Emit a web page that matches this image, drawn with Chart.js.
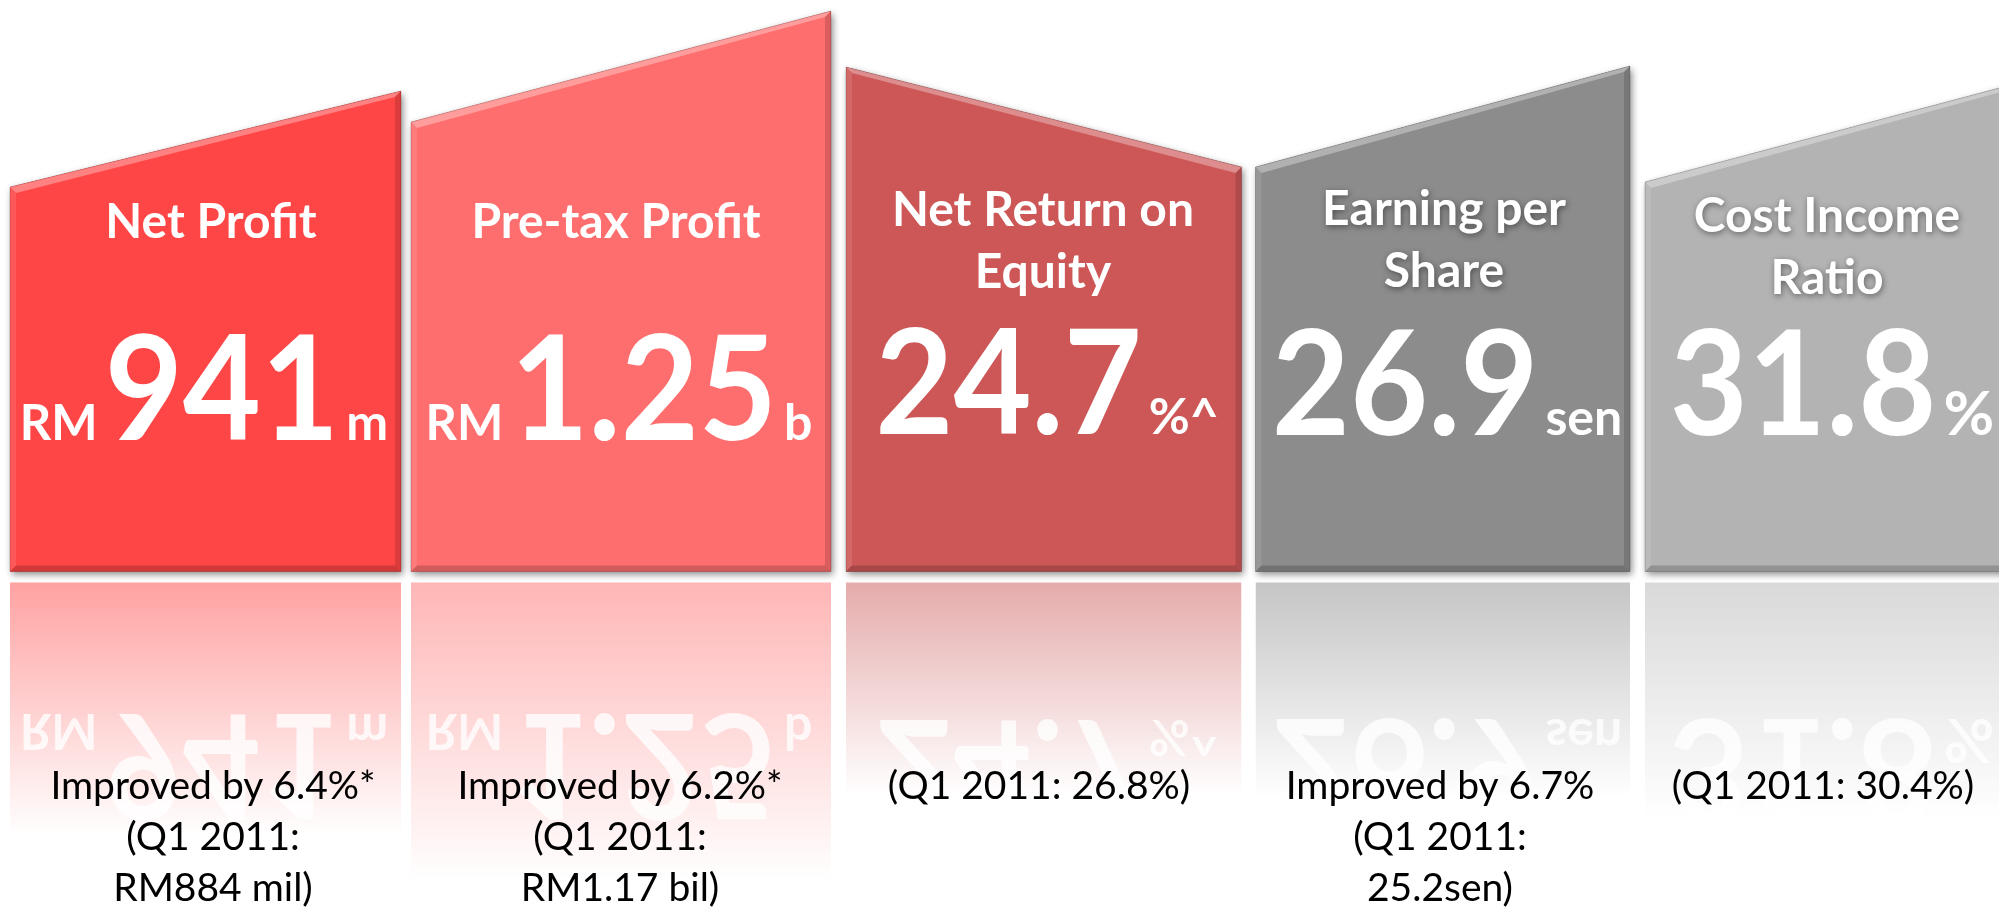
<!DOCTYPE html>
<html>
<head>
<meta charset="utf-8">
<script src="https://cdn.jsdelivr.net/npm/chart.js@4.4.1/dist/chart.umd.min.js"></script>
<style>
  html, body { margin: 0; padding: 0; background: #ffffff; overflow: hidden; }
  #wrap { width: 1999px; height: 908px; position: relative; }
</style>
</head>
<body>
<div id="wrap"><canvas id="c" width="1999" height="908"></canvas></div>
<script>
// ---------------- DATA ----------------
const titles = [
  ["Net Profit"],
  ["Pre-tax Profit"],
  ["Net Return on", "Equity"],
  ["Earning per", "Share"],
  ["Cost Income", "Ratio"]
];
const valuePrefixes = ["RM", "RM", "", "", ""];
const values = [941, 1.25, 24.7, 26.9, 31.8];
const valueUnits = ["m", "b", "%^", "sen", "%"];
const captions = [
  ["Improved by 6.4%*", "(Q1 2011:", "RM884 mil)"],
  ["Improved by 6.2%*", "(Q1 2011:", "RM1.17 bil)"],
  ["(Q1 2011: 26.8%)"],
  ["Improved by 6.7%", "(Q1 2011:", "25.2sen)"],
  ["(Q1 2011: 30.4%)"]
];

// ---------------- LAYOUT / STYLE ----------------
const tileLeft   = [10, 411, 846, 1255.5, 1645];
const tileRight  = [401, 831, 1241.5, 1630, 2005];
const edgeLeft   = [384.5, 449.5, 504.5, 404.5, 389.5];
const edgeRight  = [480.5, 560.5, 404.5, 505.5, 485];
const tileColors = ["#FF4646", "#FF6E6E", "#CD5757", "#8C8C8C", "#B3B3B3"];
const textCenter = [211, 616, 1043, 1444, 1827];
const valueCenter = [204, 619, 1047, 1447, 1832];
const titleBase  = [238, 238, 226, 225, 232];
const valueBase  = [440, 440, 434, 435, 435];
const unitPx     = [50, 50, 50, 50, 62];
const titleShadow = [false, false, false, true, true];
const captionCenter = [213, 620, 1039, 1440, 1823];
const reflectFade = [835, 880, 795, 797, 818];

const FONT = "Lato, 'Open Sans', sans-serif";
const TITLE_PX = 48, TITLE_LH = 62;
const NUM_PX = 145, NUM_SQ = 0.93;
const PREFIX_PX = 49;
const CAP_PX = 39, CAP_LH = 51, CAP_BASE = 799;
const MIRROR_AXIS = 577, REFLECT_TOP = 582;

function tilePath(ctx, xs, ys, i) {
  const xl = xs.getPixelForValue(tileLeft[i]), xr = xs.getPixelForValue(tileRight[i]);
  const yb = ys.getPixelForValue(0);
  ctx.beginPath();
  ctx.moveTo(xl, yb);
  ctx.lineTo(xl, ys.getPixelForValue(edgeLeft[i]));
  ctx.lineTo(xr, ys.getPixelForValue(edgeRight[i]));
  ctx.lineTo(xr, yb);
  ctx.closePath();
}

function drawTileText(ctx, i, withShadow) {
  ctx.save();
  ctx.fillStyle = "#ffffff";
  ctx.textBaseline = "alphabetic";
  // title
  ctx.textAlign = "center";
  ctx.font = `bold ${TITLE_PX}px ${FONT}`;
  if (withShadow && titleShadow[i]) {
    ctx.shadowColor = "rgba(0,0,0,0.45)";
    ctx.shadowBlur = 6; ctx.shadowOffsetX = 1; ctx.shadowOffsetY = 2;
  }
  titles[i].forEach((line, k) => ctx.fillText(line, textCenter[i], titleBase[i] + k * TITLE_LH));
  ctx.shadowColor = "transparent";
  // value group
  ctx.textAlign = "left";
  const pf = valuePrefixes[i], num = String(values[i]), sf = valueUnits[i];
  ctx.font = `bold ${PREFIX_PX}px ${FONT}`;
  const wp = pf ? ctx.measureText(pf).width : 0;
  ctx.font = `bold ${NUM_PX}px ${FONT}`;
  const wn = ctx.measureText(num).width * NUM_SQ;
  ctx.font = `bold ${unitPx[i]}px ${FONT}`;
  const ws = ctx.measureText(sf).width;
  const gap = 7;
  const total = wp + (pf ? gap : 0) + wn + gap + ws;
  let x = valueCenter[i] - total / 2;
  const yb = valueBase[i];
  if (pf) {
    ctx.font = `bold ${PREFIX_PX}px ${FONT}`;
    ctx.fillText(pf, x, yb);
    x += wp + gap;
  }
  ctx.save();
  ctx.translate(x, yb);
  ctx.scale(NUM_SQ, 1);
  ctx.font = `bold ${NUM_PX}px ${FONT}`;
  ctx.fillText(num, 0, 0);
  ctx.restore();
  x += wn + gap;
  ctx.font = `bold ${unitPx[i]}px ${FONT}`;
  ctx.fillText(sf, x, yb);
  ctx.restore();
}

const tilePlugin = {
  id: "tiles",
  beforeDatasetsDraw(chart) {
    const ctx = chart.ctx, xs = chart.scales.x, ys = chart.scales.y;
    // drop shadows
    for (let i = 0; i < tileLeft.length; i++) {
      ctx.save();
      ctx.shadowColor = "rgba(0,0,0,0.45)";
      ctx.shadowBlur = 7; ctx.shadowOffsetX = 2; ctx.shadowOffsetY = 3;
      tilePath(ctx, xs, ys, i);
      ctx.fillStyle = tileColors[i];
      ctx.fill();
      ctx.restore();
    }
    // reflections
    for (let i = 0; i < tileLeft.length; i++) {
      const xl = xs.getPixelForValue(tileLeft[i]), xr = xs.getPixelForValue(tileRight[i]);
      ctx.save();
      ctx.beginPath();
      ctx.rect(xl, REFLECT_TOP, xr - xl, chart.height - REFLECT_TOP);
      ctx.clip();
      ctx.globalAlpha = 0.5;
      ctx.translate(0, 2 * MIRROR_AXIS);
      ctx.scale(1, -1);
      tilePath(ctx, xs, ys, i);
      ctx.fillStyle = tileColors[i];
      ctx.fill();
      ctx.globalAlpha = 0.8;
      drawTileText(ctx, i, false);
      ctx.restore();
      // fade to white
      ctx.save();
      const g = ctx.createLinearGradient(0, REFLECT_TOP, 0, reflectFade[i]);
      g.addColorStop(0, "rgba(255,255,255,0)");
      g.addColorStop(1, "rgba(255,255,255,1)");
      ctx.fillStyle = g;
      ctx.fillRect(xl - 1, REFLECT_TOP, xr - xl + 2, reflectFade[i] - REFLECT_TOP);
      ctx.fillStyle = "#ffffff";
      ctx.fillRect(xl - 1, reflectFade[i], xr - xl + 2, chart.height - reflectFade[i]);
      ctx.restore();
    }
  },
  afterDatasetsDraw(chart) {
    const ctx = chart.ctx, xs = chart.scales.x, ys = chart.scales.y;
    const b = 6;
    for (let i = 0; i < tileLeft.length; i++) {
      const xl = xs.getPixelForValue(tileLeft[i]), xr = xs.getPixelForValue(tileRight[i]);
      const yl = ys.getPixelForValue(edgeLeft[i]), yr = ys.getPixelForValue(edgeRight[i]);
      const yb = ys.getPixelForValue(0);
      const bands = [
        [[xl, yl], [xr, yr], [xr - b, yr + b], [xl + b, yl + b], "rgba(255,255,255,0.32)"],
        [[xl, yl], [xl + b, yl + b], [xl + b, yb - b], [xl, yb], "rgba(255,255,255,0.10)"],
        [[xr, yr], [xr, yb], [xr - b, yb - b], [xr - b, yr + b], "rgba(0,0,0,0.14)"],
        [[xl, yb], [xl + b, yb - b], [xr - b, yb - b], [xr, yb], "rgba(0,0,0,0.18)"]
      ];
      ctx.save();
      bands.forEach(p => {
        ctx.beginPath();
        ctx.moveTo(p[0][0], p[0][1]);
        for (let k = 1; k < 4; k++) ctx.lineTo(p[k][0], p[k][1]);
        ctx.closePath();
        ctx.fillStyle = p[4];
        ctx.fill();
      });
      tilePath(ctx, xs, ys, i);
      ctx.strokeStyle = "rgba(0,0,0,0.18)";
      ctx.lineWidth = 1;
      ctx.stroke();
      ctx.restore();
      drawTileText(ctx, i, true);
    }
    // captions
    ctx.save();
    ctx.fillStyle = "#000000";
    ctx.textAlign = "center";
    ctx.textBaseline = "alphabetic";
    ctx.font = `${CAP_PX}px ${FONT}`;
    captions.forEach((lines, i) => {
      lines.forEach((line, k) => ctx.fillText(line, captionCenter[i], CAP_BASE + k * CAP_LH));
    });
    ctx.restore();
  }
};

const datasets = tileLeft.map((xl, i) => ({
  label: titles[i].join(" "),
  data: [{ x: xl, y: edgeLeft[i] }, { x: tileRight[i], y: edgeRight[i] }],
  showLine: true,
  fill: "origin",
  backgroundColor: tileColors[i],
  borderColor: tileColors[i],
  borderWidth: 0,
  pointRadius: 0,
  tension: 0
}));

new Chart(document.getElementById("c").getContext("2d"), {
  type: "line",
  data: { datasets },
  plugins: [tilePlugin],
  options: {
    responsive: false,
    animation: false,
    events: [],
    layout: { padding: 0 },
    plugins: { legend: { display: false }, tooltip: { enabled: false } },
    scales: {
      x: { type: "linear", min: 0, max: 1999, display: false },
      y: { type: "linear", min: -336.5, max: 571.5, display: false }
    }
  }
});
</script>
</body>
</html>
